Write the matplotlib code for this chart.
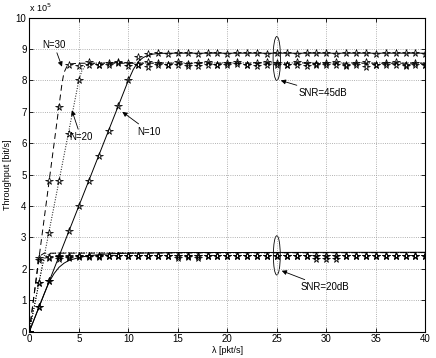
import matplotlib
matplotlib.use("Agg")
import matplotlib.pyplot as plt
from matplotlib.patches import Ellipse
import numpy as np

plt.rcParams['font.family'] = ['Liberation Sans', 'DejaVu Sans']

# простые данные (в единицах 1e5 бит/с)
lam = np.arange(0, 41)

# моделирование, SNR=45dB
sim45_n10 = [0, 0.8, 1.6, 2.4, 3.2, 4.0, 4.8, 5.6, 6.4, 7.2, 8.0, 8.76, 8.84, 8.86, 8.85, 8.86,
             8.86, 8.85, 8.86, 8.86, 8.85, 8.86, 8.86, 8.86, 8.85, 8.86, 8.86, 8.85, 8.86, 8.86,
             8.86, 8.85, 8.86, 8.86, 8.86, 8.85, 8.86, 8.86, 8.86, 8.86, 8.85]
sim45_n20 = [0, 1.55, 3.15, 4.8, 6.3, 8.0, 8.6, 8.5, 8.55, 8.6, 8.55, 8.5, 8.6, 8.55, 8.5, 8.6,
             8.45, 8.55, 8.6, 8.5, 8.55, 8.6, 8.5, 8.55, 8.6, 8.55, 8.5, 8.6, 8.55, 8.5,
             8.55, 8.6, 8.5, 8.55, 8.6, 8.5, 8.55, 8.6, 8.5, 8.55, 8.5]
sim45_n30 = [0, 2.35, 4.8, 7.15, 8.5, 8.45, 8.5, 8.48, 8.5, 8.55, 8.45, 8.5, 8.42, 8.5, 8.48, 8.5,
             8.52, 8.45, 8.5, 8.48, 8.5, 8.52, 8.5, 8.45, 8.5, 8.48, 8.5, 8.5, 8.45, 8.52,
             8.5, 8.5, 8.45, 8.5, 8.42, 8.5, 8.48, 8.5, 8.45, 8.5, 8.5]

# моделирование, SNR=20dB
sim20_n10 = [0, 0.8, 1.6, 2.3, 2.36, 2.38, 2.39, 2.39, 2.4, 2.4, 2.4, 2.4, 2.4, 2.4, 2.4, 2.36,
             2.37, 2.36, 2.4, 2.4, 2.4, 2.4, 2.4, 2.4, 2.4, 2.4, 2.4, 2.4, 2.4, 2.33,
             2.4, 2.33, 2.4, 2.4, 2.4, 2.4, 2.4, 2.4, 2.4, 2.4, 2.4]
sim20_n20 = [0, 1.55, 2.35, 2.38, 2.39, 2.4, 2.4, 2.4, 2.4, 2.4, 2.4, 2.4, 2.4, 2.4, 2.4, 2.4,
             2.4, 2.4, 2.4, 2.4, 2.4, 2.4, 2.4, 2.4, 2.4, 2.4, 2.4, 2.4, 2.4, 2.4,
             2.33, 2.4, 2.4, 2.4, 2.4, 2.4, 2.4, 2.4, 2.4, 2.4, 2.4]
sim20_n30 = [0, 2.28, 2.37, 2.39, 2.4, 2.4, 2.4, 2.4, 2.4, 2.4, 2.4, 2.4, 2.4, 2.4, 2.4, 2.4,
             2.4, 2.4, 2.4, 2.4, 2.4, 2.4, 2.4, 2.4, 2.4, 2.4, 2.4, 2.4, 2.4, 2.4,
             2.4, 2.4, 2.4, 2.4, 2.4, 2.4, 2.4, 2.4, 2.4, 2.4, 2.4]

# теория, SNR=45dB
th45_n10_x = [0, 10, 10.5, 11, 11.5, 12, 12.5, 13, 14, 40]
th45_n10_y = [0, 8.0, 8.35, 8.6, 8.73, 8.8, 8.84, 8.86, 8.87, 8.87]
th45_n20_x = [0, 5, 5.3, 5.6, 6, 7, 40]
th45_n20_y = [0, 8.0, 8.3, 8.45, 8.53, 8.56, 8.56]
th45_n30_x = [0, 3.3, 3.5, 3.8, 4.2, 5, 40]
th45_n30_y = [0, 7.9, 8.25, 8.45, 8.53, 8.55, 8.55]

# теория, SNR=20dB
th20_n10_x = [0, 0.5, 1, 1.5, 2, 2.5, 3, 3.5, 4, 5, 6, 7, 8, 10, 15, 40]
th20_n10_y = [0, 0.4, 0.8, 1.2, 1.58, 1.85, 2.05, 2.18, 2.27, 2.36, 2.42, 2.45, 2.48, 2.5, 2.52, 2.53]
th20_n20_x = [0, 1, 1.4, 1.7, 2, 3, 40]
th20_n20_y = [0, 1.6, 2.2, 2.42, 2.48, 2.51, 2.52]
th20_n30_x = [0, 0.9, 1.1, 1.5, 40]
th20_n30_y = [0, 2.2, 2.42, 2.5, 2.52]

fig = plt.figure(figsize=(4.36, 3.58), dpi=100)
ax = fig.add_axes([0.0672, 0.0735, 0.9083, 0.8771])

lw = 0.7
ax.plot(th45_n10_x, th45_n10_y, 'k-', lw=lw)
ax.plot(th45_n20_x, th45_n20_y, 'k:', lw=lw)
ax.plot(th45_n30_x, th45_n30_y, 'k--', lw=lw, dashes=(6, 4))
ax.plot(th20_n10_x, th20_n10_y, 'k-', lw=lw)
ax.plot(th20_n20_x, th20_n20_y, 'k:', lw=lw)
ax.plot(th20_n30_x, th20_n30_y, 'k--', lw=lw, dashes=(6, 4))

for s in [sim45_n10, sim45_n20, sim45_n30, sim20_n10, sim20_n20, sim20_n30]:
    ax.plot(lam, s, linestyle='none', marker='*', markersize=5.5,
            markerfacecolor='none', markeredgecolor='k', markeredgewidth=0.55)

ax.set_xlim(0, 40)
ax.set_ylim(0, 10)
ax.set_xticks(np.arange(0, 41, 5))
ax.set_yticks(np.arange(0, 11, 1))
ax.tick_params(direction='in', top=True, right=True, labelsize=7, length=3, width=0.6, pad=2)
ax.grid(True, linestyle=':', color='0.6', lw=0.6)
for sp in ax.spines.values():
    sp.set_linewidth(0.8)

ax.set_xlabel('λ [pkt/s]', fontsize=6.5, labelpad=1)
ax.set_ylabel('Throughput [bit/s]', fontsize=6.5, labelpad=3)
ax.text(0.0, 1.012, 'x 10$^5$', transform=ax.transAxes, fontsize=6.5, ha='left', va='bottom')

# эллипсы и подписи
ax.add_patch(Ellipse((25, 8.7), 0.75, 1.4, fill=False, ec='k', lw=0.6))
ax.add_patch(Ellipse((25, 2.43), 0.7, 1.25, fill=False, ec='k', lw=0.6))

ap = dict(arrowstyle='-|>', color='k', lw=0.6, mutation_scale=7, shrinkA=0, shrinkB=0)
ax.annotate('SNR=45dB', xy=(25.4, 8.0), xytext=(27.2, 7.6), fontsize=7,
            va='center', ha='left', arrowprops=ap)
ax.annotate('SNR=20dB', xy=(25.5, 1.94), xytext=(27.4, 1.41), fontsize=7,
            va='center', ha='left', arrowprops=ap)
ax.annotate('N=30', xy=(3.3, 8.44), xytext=(2.5, 9.13), fontsize=7,
            va='center', ha='center', arrowprops=ap)
ax.annotate('N=20', xy=(4.3, 7.05), xytext=(5.2, 6.2), fontsize=7,
            va='center', ha='center', arrowprops=ap)
ax.annotate('N=10', xy=(9.4, 7.0), xytext=(12.1, 6.37), fontsize=7,
            va='center', ha='center', arrowprops=ap)

fig.savefig('out.png', dpi=100)
